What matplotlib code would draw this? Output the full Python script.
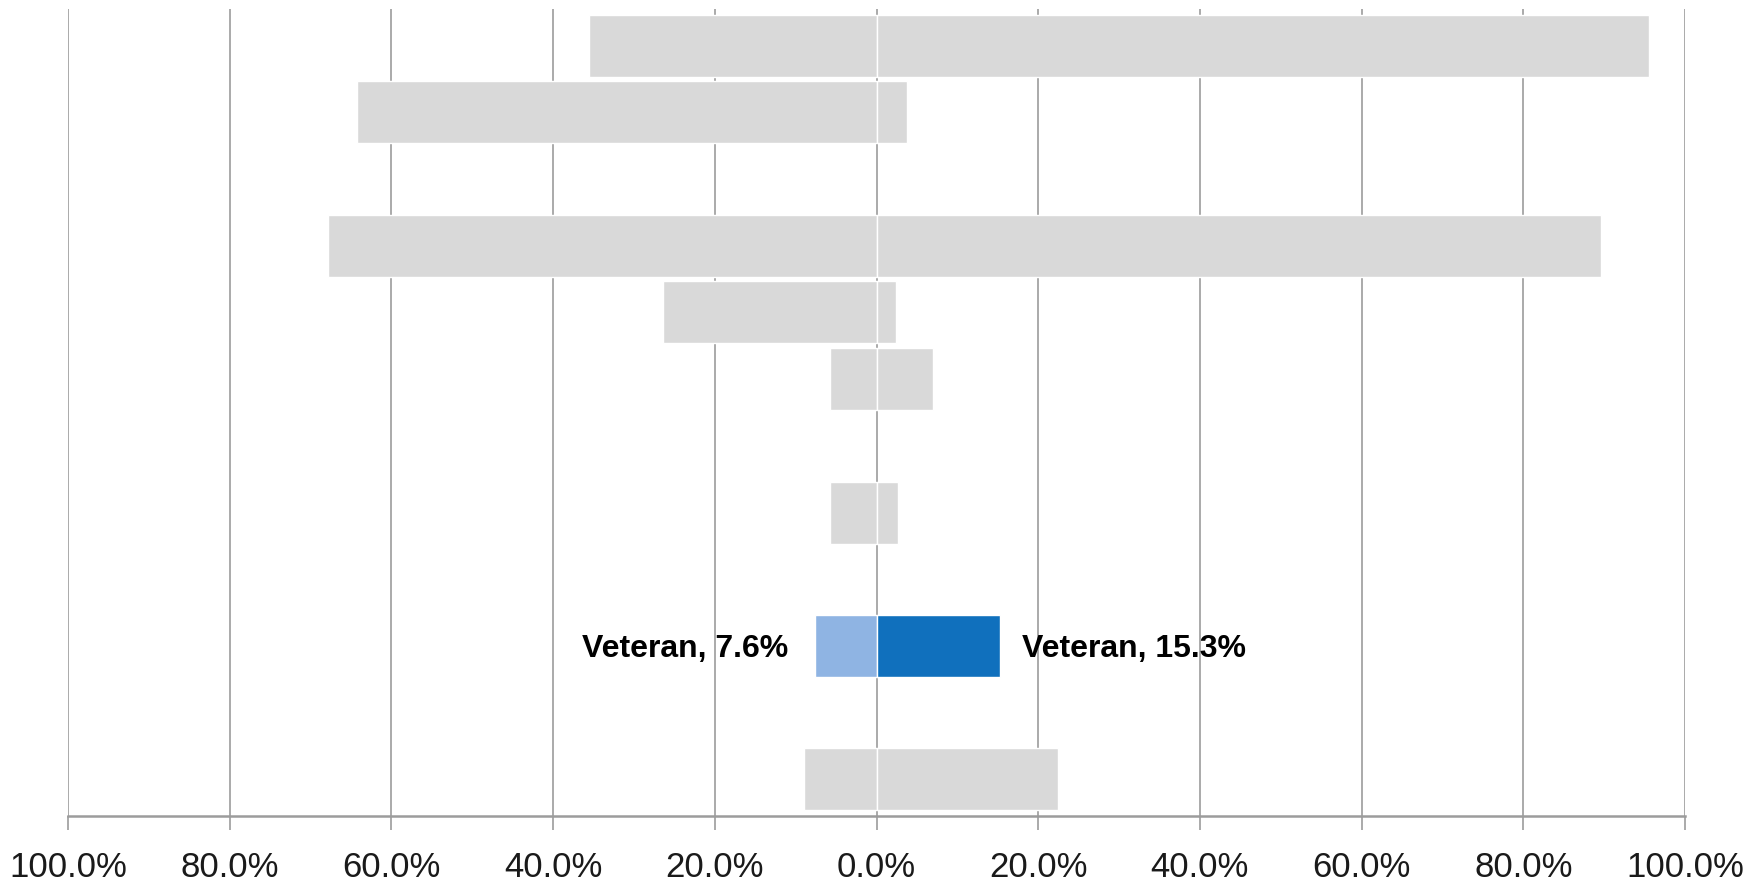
import numpy as np
import matplotlib
matplotlib.use("Agg")
import matplotlib.pyplot as plt
from matplotlib.ticker import FuncFormatter

# rows top to bottom, nan = empty row
left_vals = [35.5, 64.3, np.nan, 67.9, 26.4, 5.7, np.nan, 5.7, np.nan, 7.6, np.nan, 9.0]
right_vals = [95.6, 3.8, np.nan, 89.6, 2.4, 7.0, np.nan, 2.6, np.nan, 15.3, np.nan, 22.4]
highlight_row = 9
highlight_name = "Veteran"
xticks = [-100, -80, -60, -40, -20, 0, 20, 40, 60, 80, 100]

gray = "#D9D9D9"
light_blue = "#8FB4E3"
dark_blue = "#1070BD"
grid_col = "#9C9C9C"
font = ["Liberation Sans", "DejaVu Sans"]

fig = plt.figure(figsize=(17.6, 8.83), dpi=100)
ax = fig.add_axes([68 / 1760, 1 - 816 / 883, (1685 - 68) / 1760, (816 - 9) / 883])

rows = np.arange(len(left_vals))
lcols = [light_blue if i == highlight_row else gray for i in rows]
rcols = [dark_blue if i == highlight_row else gray for i in rows]

ax.barh(rows, -np.array(left_vals), height=0.93, color=lcols, edgecolor="white", linewidth=1.0, zorder=2)
ax.barh(rows, right_vals, height=0.93, color=rcols, edgecolor="white", linewidth=1.0, zorder=2)

ax.annotate(f"{highlight_name}, {left_vals[highlight_row]}%", (-left_vals[highlight_row], highlight_row),
            xytext=(-19, -2), textcoords="offset points", ha="right", va="center",
            fontsize=23, fontweight="bold", family=font, color="black")
ax.annotate(f"{highlight_name}, {right_vals[highlight_row]}%", (right_vals[highlight_row], highlight_row),
            xytext=(16, -2), textcoords="offset points", ha="left", va="center",
            fontsize=23, fontweight="bold", family=font, color="black")

ax.set_xlim(-100, 100)
ax.set_ylim(len(left_vals) - 0.45, -0.55)
ax.set_xticks(xticks)
ax.xaxis.set_major_formatter(FuncFormatter(lambda v, p: f"{abs(v):.1f}%"))
ax.set_yticks([])
ax.grid(axis="x", color=grid_col, linewidth=1.2, zorder=0)
ax.set_axisbelow(True)
for s in ["top", "left", "right"]:
    ax.spines[s].set_visible(False)
ax.spines["bottom"].set_color(grid_col)
ax.spines["bottom"].set_linewidth(1.8)
ax.tick_params(axis="x", direction="out", length=10, width=1.2, color=grid_col, pad=15,
               labelsize=25, labelcolor="#1a1a1a")
for t in ax.get_xticklabels():
    t.set_family(font)

fig.savefig("out.png", dpi=100, facecolor="white")
